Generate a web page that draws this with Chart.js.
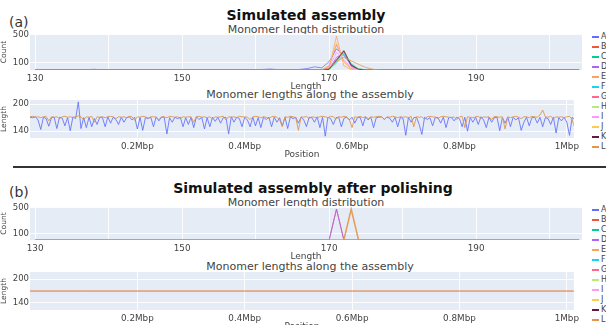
<!DOCTYPE html>
<html>
<head>
<meta charset="utf-8">
<script src="https://cdn.jsdelivr.net/npm/chart.js@4.4.1/dist/chart.umd.min.js"></script>
<style>
  body { margin: 0; width: 606px; height: 325px; overflow: hidden; background: #fff; position: relative; font-family: "DejaVu Sans", Verdana, sans-serif; }
  .txt { position: absolute; white-space: nowrap; transform: translate(-50%, -50%); }
  .title { font-weight: bold; font-size: 14px; color: #111; }
  .sub { font-size: 11px; color: #444; }
  .tag { font-size: 14px; color: #333; transform: translate(0, -50%); }
  canvas { position: absolute; left: 0; }
  .legend { position: absolute; left: 592px; font-size: 8px; color: #444; }
  .legend div { height: 10px; line-height: 10px; white-space: nowrap; }
  .legend span { display: inline-block; width: 7px; height: 2px; vertical-align: middle; margin-right: 2px; }
  .rule { position: absolute; left: 13px; right: 0; top: 166px; height: 2px; background: #333; }
</style>
</head>
<body>
<div class="txt tag" style="left:9px; top:22px">(a)</div>
<div class="txt title" style="left:306px; top:15px">Simulated assembly</div>
<div class="txt sub" style="left:306px; top:29px">Monomer length distribution</div>
<div class="txt sub" style="left:310px; top:94px">Monomer lengths along the assembly</div>
<div class="rule"></div>
<div class="txt tag" style="left:9px; top:192px">(b)</div>
<div class="txt title" style="left:313px; top:188px">Simulated assembly after polishing</div>
<div class="txt sub" style="left:306px; top:201.5px">Monomer length distribution</div>
<div class="txt sub" style="left:310px; top:265.5px">Monomer lengths along the assembly</div>

<canvas id="dist-a" width="582" height="64" style="top:28px"></canvas>
<canvas id="along-a" width="582" height="66" style="top:94px"></canvas>
<canvas id="dist-b" width="582" height="61" style="top:201px"></canvas>
<canvas id="along-b" width="582" height="66" style="top:266px"></canvas>

<div class="legend" id="legend-a" style="top:32px"></div>
<div class="legend" id="legend-b" style="top:205px"></div>

<script>
const seriesNames = ['A', 'B', 'C', 'D', 'E', 'F', 'G', 'H', 'I', 'J', 'K', 'L']
const seriesColors = ['#636efa', '#ef553b', '#00cc96', '#ab63fa', '#ffa15a', '#19d3f3',
  '#ff6692', '#b6e880', '#ff97ff', '#fecb52', '#5e1f3f', '#e0964c']

// monomer length bins (bp) for the distribution plots
const lengthBins = [130, 137, 138, 139, 141, 150, 160, 161, 162, 163, 165, 166, 167, 168, 169, 170, 171, 172, 173, 174, 175, 176, 177, 204]

// counts per bin, simulated assembly
const countsA = [0, 4, 10, 3, 0, 0, 3, 8, 14, 5, 2, 8, 20, 45, 30, 120, 300, 210, 70, 15, 3, 0, 0, 0]
const countsB = [0, 0, 0, 0, 0, 0, 0, 0, 0, 0, 0, 0, 0, 0, 0, 20, 150, 280, 60, 5, 0, 0, 0, 0]
const countsC = [0, 0, 0, 0, 0, 0, 0, 0, 0, 0, 0, 0, 0, 0, 0, 10, 120, 260, 80, 10, 0, 0, 0, 0]
const countsD = [0, 0, 0, 0, 0, 0, 0, 0, 0, 0, 0, 0, 0, 0, 0, 15, 180, 240, 50, 0, 0, 0, 0, 0]
const countsE = [0, 0, 0, 0, 0, 0, 0, 0, 0, 0, 0, 0, 0, 0, 0, 30, 483, 60, 5, 0, 0, 0, 0, 0]
const countsF = [0, 0, 0, 0, 0, 0, 0, 0, 0, 0, 0, 0, 0, 0, 0, 10, 100, 230, 90, 15, 0, 0, 0, 0]
const countsG = [0, 0, 0, 0, 0, 0, 0, 0, 0, 0, 0, 0, 0, 0, 0, 60, 360, 120, 20, 0, 0, 0, 0, 0]
const countsH = [0, 0, 0, 0, 0, 0, 0, 0, 0, 0, 0, 0, 0, 0, 0, 10, 90, 250, 100, 20, 0, 0, 0, 0]
const countsI = [0, 0, 0, 0, 0, 0, 0, 0, 0, 0, 0, 0, 0, 0, 0, 40, 250, 150, 30, 0, 0, 0, 0, 0]
const countsJ = [0, 0, 0, 0, 0, 0, 0, 0, 0, 0, 0, 0, 0, 0, 0, 70, 390, 110, 15, 0, 0, 0, 0, 0]
const countsK = [0, 0, 0, 0, 0, 0, 0, 0, 0, 0, 0, 0, 0, 0, 0, 10, 140, 270, 70, 10, 0, 0, 0, 0]
const countsL = [0, 0, 0, 0, 0, 0, 0, 0, 0, 0, 0, 0, 0, 0, 5, 30, 120, 180, 130, 80, 35, 10, 0, 0]

// counts per bin, after polishing (only four series leave the baseline)
const polishedB = [0, 0, 0, 0, 0, 0, 0, 0, 0, 0, 0, 0, 0, 0, 0, 0, 480, 0, 0, 0, 0, 0, 0, 0]
const polishedD = [0, 0, 0, 0, 0, 0, 0, 0, 0, 0, 0, 0, 0, 0, 0, 0, 480, 0, 0, 0, 0, 0, 0, 0]
const polishedE = [0, 0, 0, 0, 0, 0, 0, 0, 0, 0, 0, 0, 0, 0, 0, 0, 0, 0, 470, 0, 0, 0, 0, 0]
const polishedL = [0, 0, 0, 0, 0, 0, 0, 0, 0, 0, 0, 0, 0, 0, 0, 0, 0, 0, 480, 0, 0, 0, 0, 0]

// monomer lengths sampled every 5 kb along the assembly
const positionStep = 5000
const alongA = [
  171, 170, 172, 165, 144, 171, 168, 151, 170, 171,
  146, 171, 169, 152, 170, 141, 172, 168, 205, 146,
  170, 148, 171, 150, 168, 155, 171, 170, 150, 172,
  158, 171, 166, 155, 171, 160, 170, 172, 165, 171,
  145, 171, 142, 170, 168, 171, 150, 172, 163, 171,
  171, 134, 170, 160, 171, 168, 171, 150, 170, 155,
  171, 148, 172, 166, 171, 145, 170, 150, 171, 162,
  171, 158, 170, 171, 134, 172, 160, 171, 168, 150,
  171, 165, 150, 171, 152, 170, 148, 171, 166, 171,
  150, 171, 160, 170, 152, 171, 146, 172, 168, 171,
  158, 171, 165, 150, 171, 170, 160, 172, 148, 171,
  129, 171, 168, 155, 170, 171, 150, 169, 171, 165,
  171, 158, 170, 171, 152, 172, 165, 171, 148, 170,
  171, 172, 166, 171, 169, 160, 171, 150, 171, 168,
  131, 171, 160, 170, 171, 155, 133, 171, 166, 170,
  152, 171, 170, 158, 171, 148, 170, 171, 163, 171,
  168, 150, 171, 140, 170, 160, 171, 155, 172, 165,
  148, 171, 160, 170, 171, 141, 170, 158, 171, 150,
  171, 165, 170, 142, 160, 171, 152, 170, 171, 158,
  171, 150, 170, 168, 155, 171, 136, 170, 163, 171,
  160, 131, 171, 165
]
const alongL = [
  172, 173, 171, 172, 170, 172, 173, 163, 172, 171,
  172, 168, 172, 173, 171, 172, 170, 172, 174, 172,
  165, 172, 171, 173, 160, 172, 171, 172, 170, 172,
  173, 172, 168, 172, 171, 172, 170, 173, 172, 164,
  172, 171, 173, 172, 169, 172, 172, 171, 166, 172,
  172, 170, 173, 172, 171, 172, 168, 172, 171, 172,
  172, 160, 172, 173, 171, 172, 170, 172, 167, 172,
  171, 172, 173, 165, 172, 171, 172, 170, 173, 172,
  172, 171, 166, 172, 173, 172, 170, 172, 171, 168,
  172, 173, 171, 165, 150, 172, 171, 173, 172, 170,
  142, 172, 171, 173, 168, 172, 171, 170, 172, 173,
  172, 170, 173, 172, 167, 172, 171, 173, 172, 165,
  148, 172, 171, 173, 170, 172, 168, 172, 171, 172,
  173, 172, 166, 172, 171, 173, 172, 170, 172, 171,
  172, 170, 173, 150, 172, 171, 172, 166, 172, 173,
  172, 171, 168, 172, 173, 172, 171, 170, 172, 166,
  172, 173, 148, 172, 171, 170, 172, 173, 168, 172,
  171, 172, 166, 173, 172, 171, 172, 145, 172, 170,
  172, 173, 171, 168, 172, 172, 170, 173, 172, 171,
  176, 187, 172, 171, 173, 168, 172, 171, 172, 170,
  172, 173, 166, 146
]

// after polishing every monomer has the same length
const polishedPositions = [0, 100000, 200000, 300000, 400000, 500000, 600000, 700000, 800000, 900000, 1000000, 1015000]
const polishedAlongB = [170, 170, 170, 170, 170, 170, 170, 170, 170, 170, 170, 170]
const polishedAlongL = [170, 170, 170, 170, 170, 170, 170, 170, 170, 170, 170, 170]

const lengthTicks = [130, 140, 150, 160, 170, 180, 190, 200]
const lengthTickLabels = { 130: '130', 150: '150', 170: '170', 190: '190' }
const positionTicks = [200000, 400000, 600000, 800000, 1000000]
const positionTickLabels = ['0.2Mbp', '0.4Mbp', '0.6Mbp', '0.8Mbp', '1Mbp']
const countTicks = [100, 500]
const lengthAxisTicks = [140, 200]

const fontFamily = '"DejaVu Sans", Verdana, sans-serif'
const textColor = '#444'

const plotBackground = {
  id: 'plotBackground',
  beforeDraw(chart) {
    const a = chart.chartArea
    const ctx = chart.ctx
    ctx.save()
    ctx.fillStyle = '#e5ecf6'
    ctx.fillRect(a.left, a.top, a.right - a.left, a.bottom - a.top)
    ctx.restore()
  }
}

function fade(hex, alpha) {
  const n = parseInt(hex.slice(1), 16)
  return `rgba(${n >> 16}, ${(n >> 8) & 255}, ${n & 255}, ${alpha})`
}

function toPoints(xs, ys) {
  return ys.map((y, i) => ({ x: xs[i], y: y }))
}

function lineSet(seriesIndex, points, alpha, width) {
  return {
    label: seriesNames[seriesIndex],
    data: points,
    borderColor: fade(seriesColors[seriesIndex], alpha),
    borderWidth: width || 1,
    pointRadius: 0,
    tension: 0,
    order: 20 - seriesIndex
  }
}

function makeChart(id, datasets, x, y) {
  new Chart(document.getElementById(id), {
    type: 'line',
    data: { datasets: datasets },
    plugins: [plotBackground],
    options: {
      responsive: false,
      animation: false,
      events: [],
      layout: { padding: 0 },
      plugins: { legend: { display: false }, tooltip: { enabled: false } },
      scales: {
        x: {
          type: 'linear',
          min: x.min,
          max: x.max,
          afterBuildTicks: s => { s.ticks = x.ticks.map(v => ({ value: v })) },
          afterFit: s => { s.height = 22 },
          grid: { color: 'rgba(255,255,255,0.9)', drawTicks: false },
          border: { display: false },
          ticks: {
            autoSkip: false,
            maxRotation: 0,
            padding: 3,
            color: textColor,
            font: { family: fontFamily, size: 8.8 },
            callback: x.label
          },
          title: {
            display: true,
            text: x.title,
            color: textColor,
            font: { family: fontFamily, size: 9 },
            padding: { top: -6, bottom: 0 }
          }
        },
        y: {
          min: y.min,
          max: y.max,
          afterBuildTicks: s => { s.ticks = y.ticks.map(v => ({ value: v })) },
          afterFit: s => { s.width = 30 },
          grid: { color: 'rgba(255,255,255,0.9)', drawTicks: false },
          border: { display: false },
          ticks: {
            padding: 1,
            color: textColor,
            font: { family: fontFamily, size: 8.5 }
          },
          title: {
            display: true,
            text: y.title,
            color: textColor,
            font: { family: fontFamily, size: 7.5 },
            padding: { top: 0, bottom: -3 }
          }
        }
      }
    }
  })
}

const lengthAxis = {
  min: 129.3,
  max: 204.4,
  ticks: lengthTicks,
  title: 'Length',
  label: v => lengthTickLabels[v] || ''
}
const positionAxis = {
  min: 0,
  max: 1013000,
  ticks: positionTicks,
  title: 'Position',
  label: v => positionTickLabels[positionTicks.indexOf(v)]
}

const distCounts = [countsA, countsB, countsC, countsD, countsE, countsF,
  countsG, countsH, countsI, countsJ, countsK, countsL]
makeChart('dist-a',
  distCounts.map((c, i) => lineSet(i, toPoints(lengthBins, c), 0.75)),
  lengthAxis,
  { min: 0, max: 510, ticks: countTicks, title: 'Count' })

const positions = alongA.map((_, i) => i * positionStep)
makeChart('along-a',
  [lineSet(0, toPoints(positions, alongA), 0.85), lineSet(11, toPoints(positions, alongL), 0.9)],
  positionAxis,
  { min: 125, max: 209, ticks: lengthAxisTicks, title: 'Length' })

makeChart('dist-b',
  [lineSet(1, toPoints(lengthBins, polishedB), 0.8), lineSet(3, toPoints(lengthBins, polishedD), 0.8),
   lineSet(4, toPoints(lengthBins, polishedE), 0.8), lineSet(11, toPoints(lengthBins, polishedL), 0.8, 1.5)],
  lengthAxis,
  { min: 0, max: 510, ticks: countTicks, title: 'Count' })

makeChart('along-b',
  [lineSet(1, toPoints(polishedPositions, polishedAlongB), 0.6), lineSet(11, toPoints(polishedPositions, polishedAlongL), 0.75)],
  positionAxis,
  { min: 122, max: 218, ticks: lengthAxisTicks, title: 'Length' })

// legends, one per panel
for (const id of ['legend-a', 'legend-b']) {
  const box = document.getElementById(id)
  seriesNames.forEach((name, i) => {
    const row = document.createElement('div')
    const mark = document.createElement('span')
    mark.style.background = seriesColors[i]
    row.appendChild(mark)
    row.appendChild(document.createTextNode(name))
    box.appendChild(row)
  })
}
</script>
</body>
</html>
